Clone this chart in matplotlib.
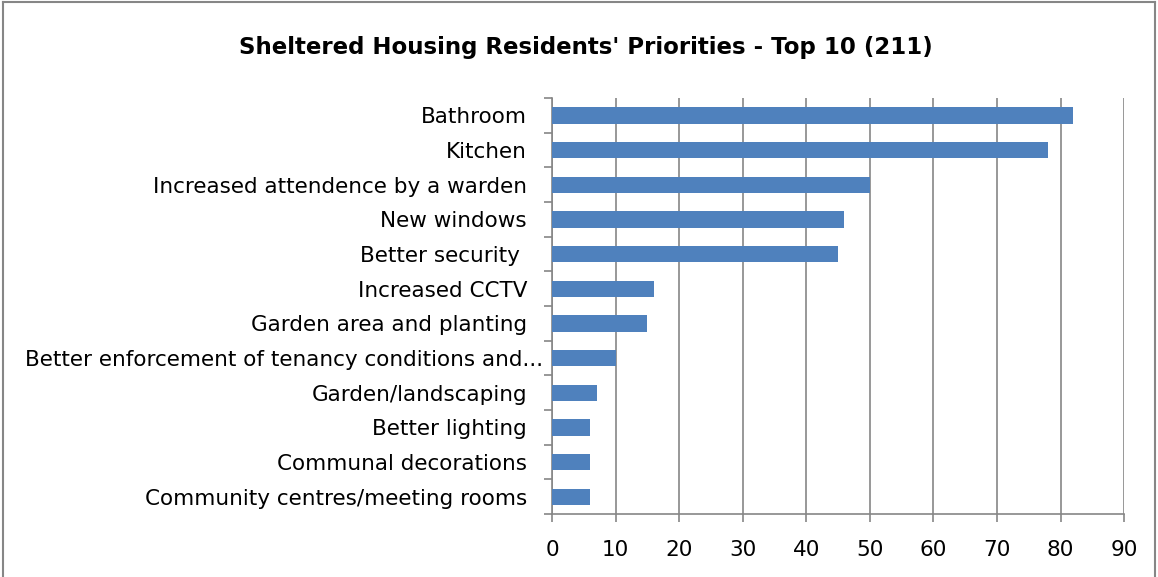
import matplotlib.pyplot as plt
from matplotlib.lines import Line2D
from matplotlib.transforms import ScaledTranslation

priorities = [
    "Bathroom",
    "Kitchen",
    "Increased attendence by a warden",
    "New windows",
    "Better security ",
    "Increased CCTV",
    "Garden area and planting",
    "Better enforcement of tenancy conditions and...",
    "Garden/landscaping",
    "Better lighting",
    "Communal decorations",
    "Community centres/meeting rooms",
]
counts = [82, 78, 50, 46, 45, 16, 15, 10, 7, 6, 6, 6]
x_ticks = list(range(0, 91, 10))

GRIS = "#868686"
AZUL = "#4f81bd"

plt.rcParams['font.family'] = ['DejaVu Sans']

fig = plt.figure(figsize=(11.58, 5.77), dpi=100)
ax = fig.add_axes([0.4767, 0.109, 0.494, 0.721])

pos = list(range(len(priorities)))
ax.barh(pos, counts, height=0.47, color=AZUL, zorder=3)
ax.set_ylim(len(priorities) - 0.5, -0.5)
ax.set_xlim(0, 90)

ax.set_xticks(x_ticks)
ax.set_xticklabels([str(t) for t in x_ticks], fontsize=15.5)
ax.set_yticks(pos)
ax.set_yticklabels(priorities, fontsize=15.5)
ax.tick_params(axis='y', length=0, pad=18)
ax.tick_params(axis='x', length=6, width=1.2, color=GRIS, pad=13)

# o rotulo truncado fica mais perto do eixo
rot = ax.get_yticklabels()[7]
rot.set_transform(rot.get_transform() + ScaledTranslation(0.16, 0, fig.dpi_scale_trans))

# marcas entre categorias no eixo y
ax.set_yticks([p + 0.5 for p in range(-1, len(priorities))], minor=True)
ax.tick_params(axis='y', which='minor', length=6, width=1.2, color=GRIS)

ax.grid(axis='x', color=GRIS, linewidth=1.2, zorder=0)
for lado in ['top', 'right']:
    ax.spines[lado].set_visible(False)
for lado in ['left', 'bottom']:
    ax.spines[lado].set_color(GRIS)
    ax.spines[lado].set_linewidth(1.2)

fig.text(0.506, 0.917, "Sheltered Housing Residents' Priorities - Top 10 (211)",
         ha='center', va='center', fontsize=16.5, fontweight='bold')

# moldura do grafico
for xs, ys in [([0.003, 0.003], [0, 0.996]), ([0.003, 0.997], [0.996, 0.996]),
               ([0.997, 0.997], [0, 0.996])]:
    fig.add_artist(Line2D(xs, ys, color=GRIS, linewidth=1.5))

fig.savefig("out.png", dpi=100)
